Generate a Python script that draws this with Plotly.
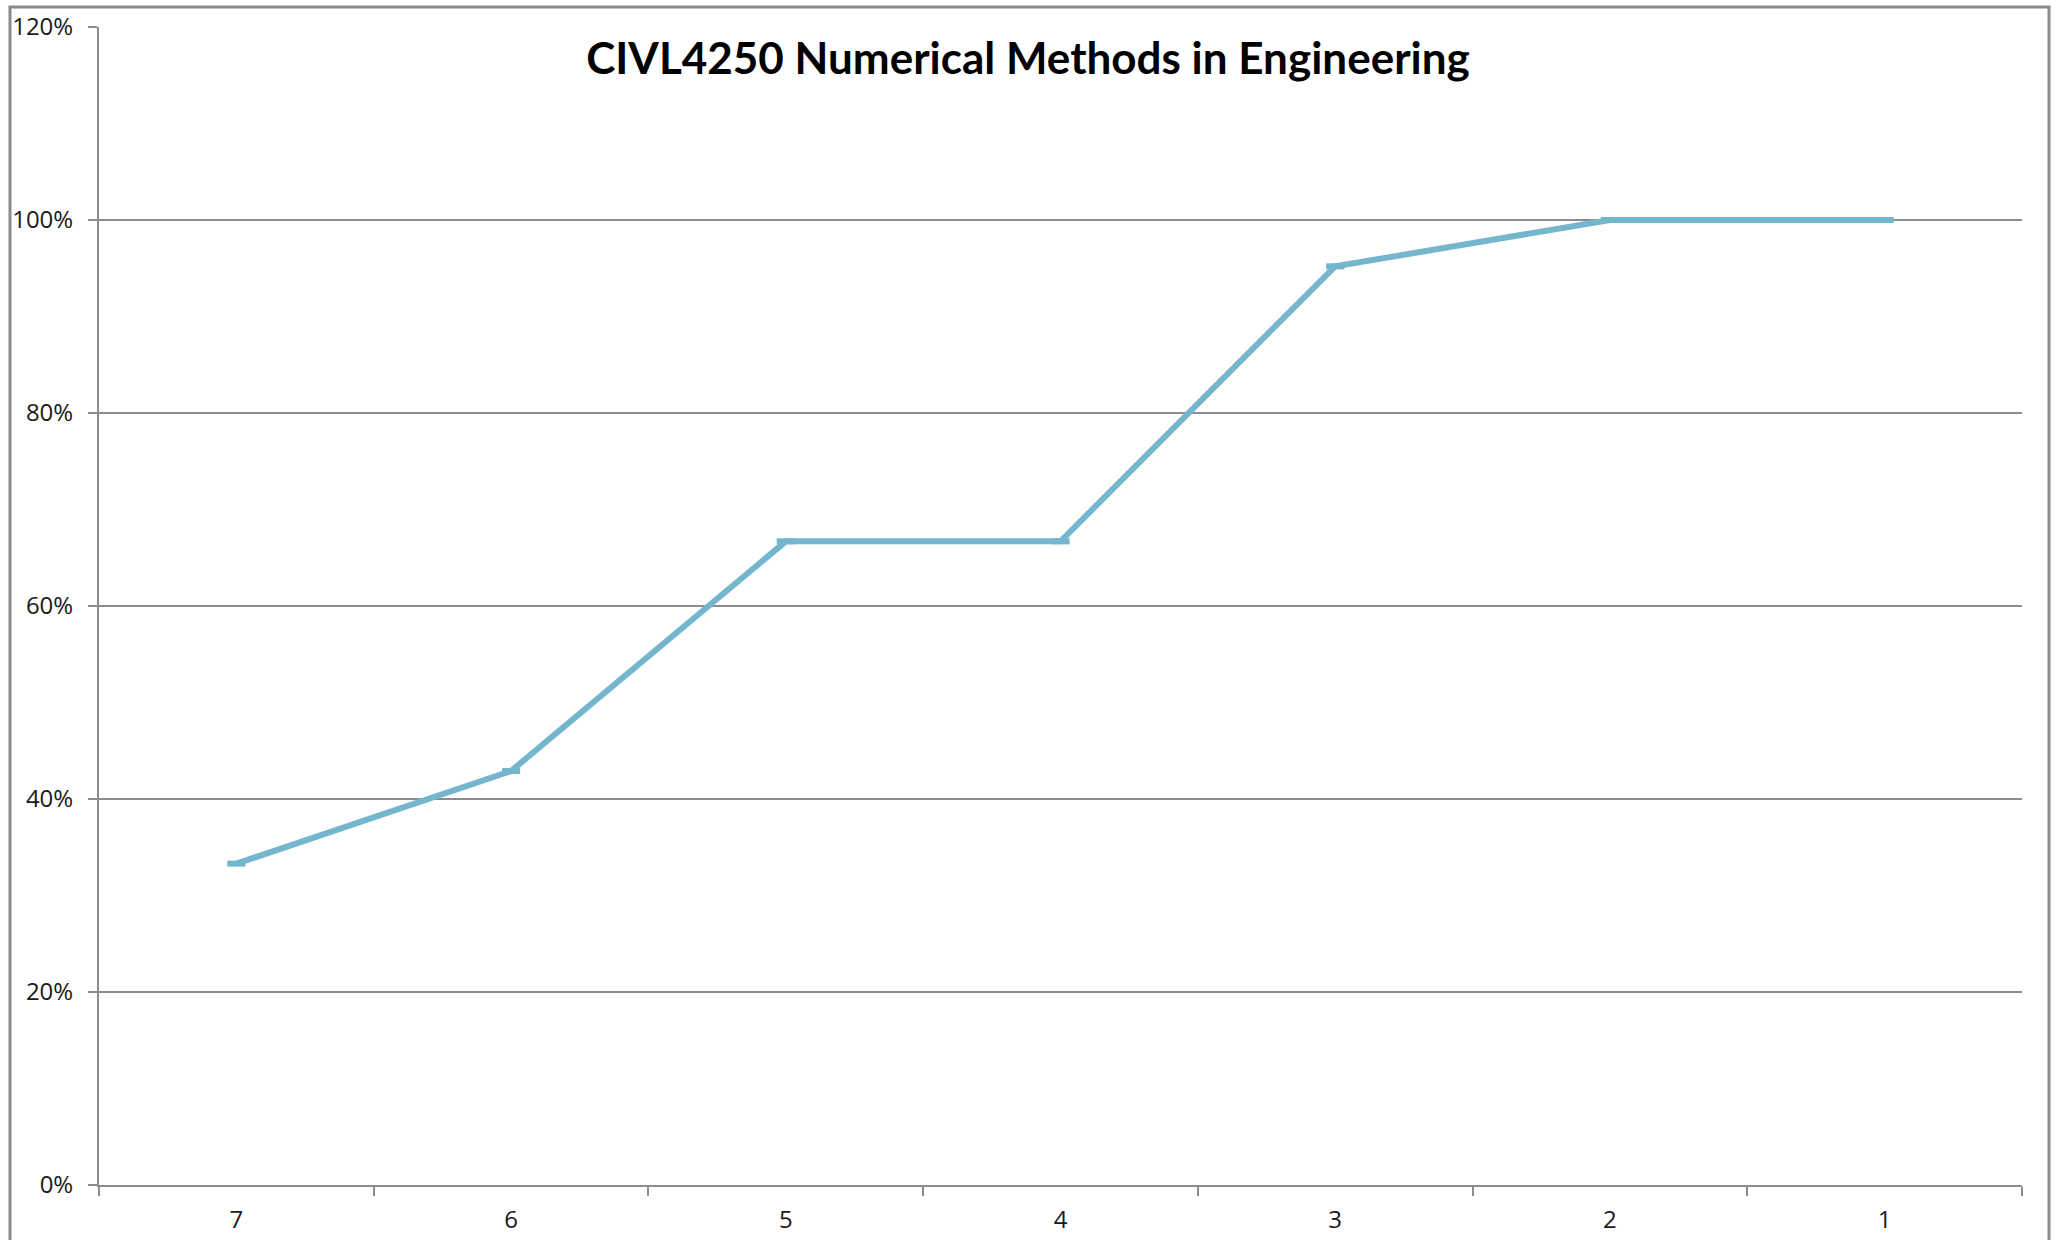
import plotly.graph_objects as go

categories = ["7", "6", "5", "4", "3", "2", "1"]
values = [0.333, 0.429, 0.667, 0.667, 0.952, 1.0, 1.0]
title_text = "CIVL4250 Numerical Methods in Engineering"

W, H = 2062, 1240
L, R, T, B = 99, 40, 27, 55
pw = W - L - R
ph = H - T - B

line_color = "#74B6CD"
grid_color = "#8C8C8C"

fig = go.Figure()
fig.add_trace(go.Scatter(
    x=categories, y=values, mode="lines+markers",
    line=dict(color=line_color, width=6),
    marker=dict(symbol="line-ew", size=13, line=dict(color=line_color, width=6)),
    showlegend=False, hoverinfo="skip",
))

# outer chart border
fig.add_shape(type="rect", xref="paper", yref="paper",
              x0=(10 - L) / pw, x1=(2049 - L) / pw,
              y0=-(H - T) / ph - 0.02, y1=1 + (T - 7) / ph,
              line=dict(color="#8A8A8A", width=3), fillcolor="rgba(0,0,0,0)", layer="below")

fig.update_layout(
    width=W, height=H,
    margin=dict(l=L, r=R, t=T, b=B, pad=0, autoexpand=False),
    paper_bgcolor="white", plot_bgcolor="white",
    font=dict(family="Open Sans, Liberation Sans, sans-serif", size=24, color="#1a1a1a"),
    title=dict(text="<b>" + title_text + "</b>", x=1028 / W, xanchor="center",
               y=1 - 59 / H, yanchor="middle",
               font=dict(family="Lato, Open Sans, sans-serif", size=44, color="black")),
    xaxis=dict(type="category", range=[-0.5, 6.5], showgrid=False,
               showline=True, linecolor=grid_color, linewidth=2,
               ticks="outside", tickson="boundaries", ticklen=9, tickwidth=1.5,
               tickcolor=grid_color, zeroline=False, fixedrange=True,
               ticklabelstandoff=12, automargin=False),
    yaxis=dict(range=[0, 1.2], dtick=0.2, tickformat=".0%",
               showgrid=True, gridcolor=grid_color, gridwidth=1.5,
               showline=True, linecolor=grid_color, linewidth=2,
               ticks="outside", ticklen=9, tickwidth=1.5, tickcolor=grid_color,
               zeroline=False, fixedrange=True, ticklabelstandoff=10, automargin=False),
)

fig.write_html("out.html", config={"displayModeBar": False},
               post_script="document.body.style.margin='0';")
